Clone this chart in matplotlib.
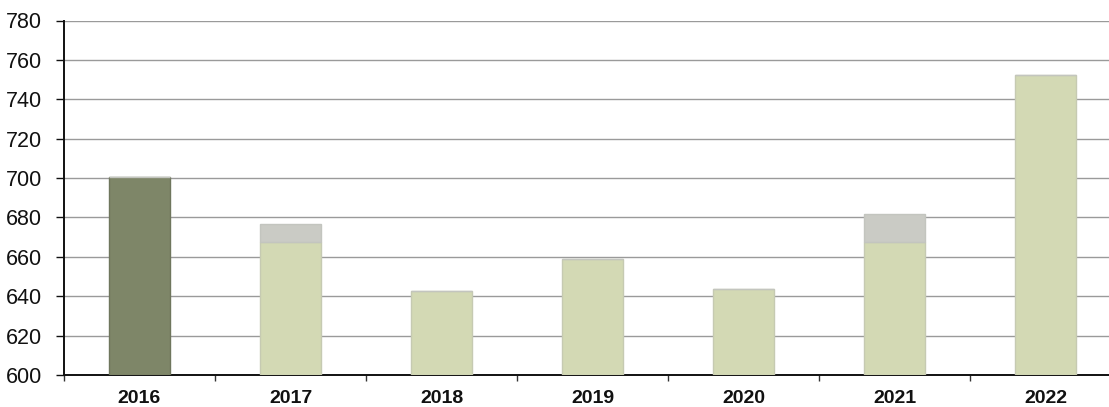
import matplotlib
matplotlib.use("Agg")
import matplotlib.pyplot as plt
import numpy as np

years = ["2016", "2017", "2018", "2019", "2020", "2021", "2022"]
base_values = [700.5, 667.4, 642.7, 658.8, 643.7, 667.4, 752.4]
extra_values = [0, 9.3, 0, 0, 0, 14.2, 0]
base_colors = ["#7e8668", "#d3d9b4", "#d3d9b4", "#d3d9b4", "#d3d9b4", "#d3d9b4", "#d3d9b4"]
edge_colors = ["#6f765d", "#c6cab2", "#c6cab2", "#c6cab2", "#c6cab2", "#c6cab2", "#c6cab2"]
extra_color = "#cacbc5"
y_ticks = list(range(600, 781, 20))

plt.rcParams['font.family'] = ['Liberation Sans', 'DejaVu Sans']

W, H = 1109, 407
fig = plt.figure(figsize=(W / 100, H / 100), dpi=100)
left, right, top, bottom = 64, 1121, 20.5, 375
ax = fig.add_axes([left / W, (H - bottom) / H, (right - left) / W, (bottom - top) / H])

x = np.arange(len(years))
ymin = 600
ax.bar(x, np.array(base_values) - ymin, bottom=ymin, width=0.4,
       color=base_colors, edgecolor=edge_colors, linewidth=1.0, zorder=3)
ax.bar(x, extra_values, bottom=base_values, width=0.4,
       color=extra_color, edgecolor="#c3c5bf", linewidth=1.0, zorder=3)

ax.set_ylim(600, 780)
ax.set_xlim(-0.5, len(years) - 0.5)
ax.set_yticks(y_ticks)
ax.set_yticklabels([str(v) for v in y_ticks], fontsize=15.5)
ax.set_xticks(x)
ax.set_xticklabels(years, fontsize=14, fontweight="bold")
ax.set_xticks(np.arange(-0.5, len(years), 1), minor=True)

ax.tick_params(axis="x", which="major", length=0, pad=11, colors="#111111")
ax.tick_params(axis="x", which="minor", length=4, width=1, direction="out", color="#333333")
ax.tick_params(axis="y", which="major", length=6, width=1, pad=10, colors="#111111")

ax.yaxis.grid(True, color="#9a9a9a", linewidth=1.0, zorder=0)
ax.set_axisbelow(True)
for s in ["top", "right"]:
    ax.spines[s].set_visible(False)
ax.spines["left"].set_linewidth(1.4)
ax.spines["bottom"].set_linewidth(1.4)
ax.spines["left"].set_color("#111111")
ax.spines["bottom"].set_color("#111111")

fig.savefig("out.png", dpi=100)
